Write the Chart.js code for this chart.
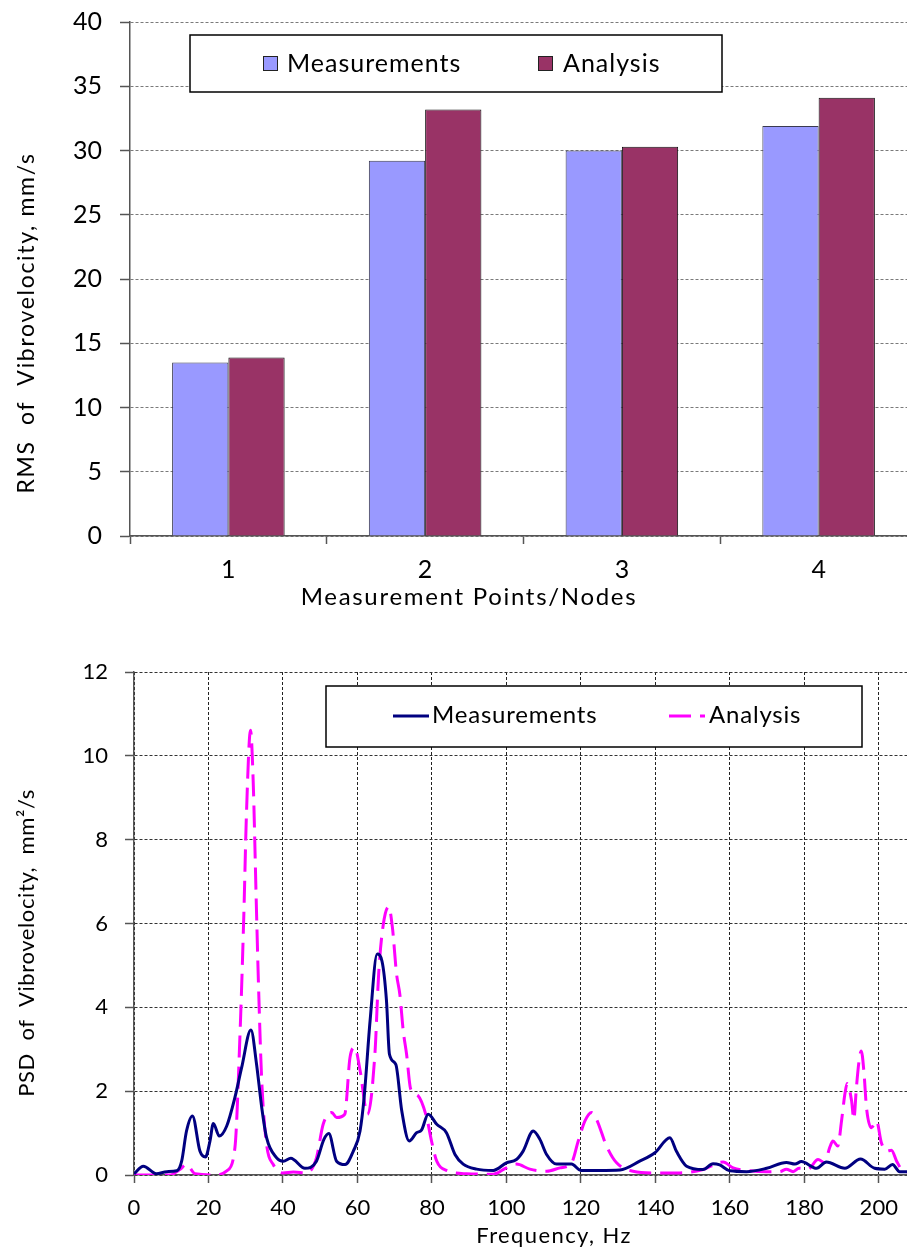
<!DOCTYPE html>
<html>
<head>
<meta charset="utf-8">
<script src="https://cdn.jsdelivr.net/npm/chart.js@4.4.1/dist/chart.umd.min.js"></script>
<style>
  html, body { margin: 0; padding: 0; background: #fff; width: 907px; height: 1251px; overflow: hidden; }
  #rmsBox { position: absolute; left: 0; top: 0; width: 920px; height: 620px; }
  #psdBox { position: absolute; left: 0; top: 640px; width: 920px; height: 611px; }
</style>
</head>
<body>
<div id="rmsBox"><canvas id="rmsChart"></canvas></div>
<div id="psdBox"><canvas id="psdChart"></canvas></div>
<script>
// ---- RMS of vibrovelocity per measurement point ----
const nodeLabels = ['1', '2', '3', '4'];
const rmsMeasured = [13.5, 29.2, 30.0, 31.9];
const rmsAnalysis = [13.9, 33.2, 30.3, 34.1];

// ---- PSD spectra (frequency in Hz, PSD in mm²/s) ----
const freqMeasured = [0, 2.5, 6, 8.8, 11.5, 12.8, 14.1, 15.7, 17.7, 19.2, 20.4, 21.3, 22.9, 24.9, 27.1, 28.9,
  31.4, 32.9, 34.3, 35.6, 38.3, 40.1, 42.1, 45.9, 49, 51, 52.3, 54.4, 56.7, 58.9, 60.7, 61.8, 63.4, 65.3,
  66.6, 67.8, 68.6, 70.3, 71.9, 73.9, 75.9, 77.2, 79, 81.3, 83.9, 86.2, 88.4, 92, 96.5, 100, 102.7, 104.5,
  107.2, 109, 110.8, 113.5, 117.5, 120, 125, 130.5, 135.8, 139.9, 143.9, 145.7, 148.4, 152.8, 155.5, 157.3,
  160, 164.5, 169.9, 175.2, 177.5, 179.2, 183.3, 185.9, 190.9, 195.1, 198.9, 201.6, 203.7, 205.6, 210];
const psdMeasured = [0.03, 0.21, 0.03, 0.08, 0.1, 0.33, 1.05, 1.41, 0.57, 0.43, 0.81, 1.23, 0.93, 1.17, 1.85, 2.56,
  3.46, 2.65, 1.61, 0.89, 0.41, 0.33, 0.4, 0.16, 0.33, 0.85, 0.99, 0.33, 0.25, 0.57, 1.05, 1.85, 3.68, 5.27,
  5.1, 4.16, 2.88, 2.64, 1.53, 0.81, 1.01, 1.07, 1.45, 1.21, 1.01, 0.49, 0.26, 0.14, 0.11, 0.29, 0.37, 0.57,
  1.05, 0.85, 0.49, 0.26, 0.26, 0.11, 0.11, 0.12, 0.33, 0.53, 0.89, 0.56, 0.21, 0.13, 0.27, 0.24,
  0.1, 0.08, 0.16, 0.3, 0.26, 0.32, 0.16, 0.31, 0.16, 0.38, 0.16, 0.14, 0.25, 0.08, 0.08];

const freqAnalysis = [0, 9.6, 12.3, 14.1, 16.4, 22.2, 24.9, 27.1, 28.5, 29.5, 30.2, 31.3, 32, 32.8, 33.4, 34.3,
  35.6, 37.4, 40, 42.8, 46.4, 49, 50.8, 53.1, 54.4, 56.6, 58, 59.3, 60.7, 62.7, 64.7, 65.7, 66.9, 68.4,
  69.4, 70.5, 71.4, 72.3, 73.2, 74.3, 76.3, 78.6, 79.9, 81.3, 83.9, 89.3, 96.5, 100, 102.7, 106.3, 110.8,
  114.4, 117.5, 119.3, 121.1, 122.9, 124.2, 126.9, 129.6, 134, 140.3, 146.6, 152.8, 158.2, 160.9, 164.5,
  169.9, 173.4, 175.2, 177, 178.6, 181, 183.7, 185.5, 186.8, 187.7, 189, 190, 190.9, 191.5, 192.7, 193.3,
  194, 194.7, 195.3, 196, 196.7, 198, 199.4, 200.7, 202.1, 203.4, 204.8, 206.5, 210];
const psdAnalysis = [0, 0, 0.13, 0.25, 0.03, 0, 0.1, 0.65, 3.44, 6.23, 8.62, 10.61, 9.41, 6.63, 4.64, 2.25,
  0.73, 0.25, 0.05, 0.07, 0.05, 0.41, 1.21, 1.49, 1.37, 1.45, 2.8, 3.04, 2.5, 1.45, 2.9, 4.8, 5.95, 6.4,
  5.9, 4.8, 4.3, 3.44, 2.88, 2.05, 1.89, 1.37, 0.81, 0.33, 0.11, 0.03, 0.02, 0.17, 0.26, 0.14, 0.09,
  0.17, 0.29, 0.81, 1.29, 1.49, 1.33, 0.69, 0.29, 0.09, 0.05, 0.05, 0.13, 0.31, 0.17, 0.11,
  0.08, 0.08, 0.14, 0.08, 0.16, 0.14, 0.37, 0.29, 0.65, 0.81, 0.69, 1.29, 1.93, 2.18, 1.77, 1.33,
  2.09, 2.72, 2.96, 2.48, 1.61, 1.13, 1.29, 0.77, 0.57, 0.59, 0.33, 0.1, 0.05];

const FONT = 'Lato';

// Bordered legend drawn inside the plot area
const boxLegend = {
  id: 'boxLegend',
  afterDraw(chart, args, o) {
    const ctx = chart.ctx;
    ctx.save();
    ctx.fillStyle = '#fff';
    ctx.fillRect(o.box.x, o.box.y, o.box.w, o.box.h);
    ctx.strokeStyle = '#000';
    ctx.lineWidth = 1.5;
    ctx.strokeRect(o.box.x, o.box.y, o.box.w, o.box.h);
    ctx.font = `${o.size}px ${FONT}`;
    ctx.letterSpacing = o.spacing + 'px';
    ctx.textBaseline = 'alphabetic';
    ctx.textAlign = 'left';
    chart.data.datasets.forEach((ds, i) => {
      const it = o.items[i];
      if (o.kind === 'square') {
        ctx.fillStyle = ds.backgroundColor;
        ctx.fillRect(it.mx, o.my, 15, 15);
        ctx.strokeStyle = '#222';
        ctx.lineWidth = 1;
        ctx.strokeRect(it.mx + 0.5, o.my + 0.5, 14, 14);
      } else {
        ctx.strokeStyle = ds.borderColor;
        ctx.lineWidth = ds.borderWidth;
        ctx.setLineDash(ds.borderDash || []);
        ctx.beginPath();
        ctx.moveTo(it.mx, o.my);
        ctx.lineTo(it.mx2, o.my);
        ctx.stroke();
        ctx.setLineDash([]);
      }
      ctx.fillStyle = '#000';
      ctx.fillText(ds.label, it.tx, o.ty);
    });
    ctx.restore();
  }
};

// Axis titles placed freely around the plot
const axisTitles = {
  id: 'axisTitles',
  afterDraw(chart, args, o) {
    const ctx = chart.ctx;
    ctx.save();
    ctx.fillStyle = '#000';
    ctx.textAlign = 'center';
    ctx.textBaseline = 'middle';
    ctx.font = `${o.xSize}px ${FONT}`;
    ctx.letterSpacing = o.xSpacing + 'px';
    ctx.fillText(o.xText, o.xcx, o.xcy);
    ctx.font = `${o.ySize}px ${FONT}`;
    ctx.letterSpacing = o.ySpacing + 'px';
    ctx.translate(o.ycx, o.ycy);
    ctx.rotate(-Math.PI / 2);
    ctx.fillText(o.yText, 0, 0);
    ctx.restore();
  }
};

Chart.register(boxLegend, axisTitles);

// fixed-width value axis whose label overflow does not push the plot area
function fixedValueAxis(width) {
  return (s) => { s.width = width; s.paddingTop = 0; s.paddingBottom = 0; };
}

new Chart(document.getElementById('rmsChart'), {
  type: 'bar',
  data: {
    labels: nodeLabels,
    datasets: [
      { label: 'Measurements', data: rmsMeasured, backgroundColor: '#9999FF', borderColor: '#3a3a50', borderWidth: 1,
        categoryPercentage: 0.572, barPercentage: 1.0, borderSkipped: 'start' },
      { label: 'Analysis', data: rmsAnalysis, backgroundColor: '#993366', borderColor: '#111', borderWidth: 1,
        categoryPercentage: 0.572, barPercentage: 1.0, borderSkipped: 'start' }
    ]
  },
  options: {
    responsive: true, maintainAspectRatio: false, animation: false, devicePixelRatio: 1,
    layout: { padding: { top: 22, right: 3, bottom: 0, left: 0 } },
    plugins: {
      legend: { display: false }, tooltip: { enabled: false },
      boxLegend: { kind: 'square', size: 25, spacing: 1, box: { x: 190, y: 35, w: 532, h: 57 }, my: 56, ty: 72,
        items: [{ mx: 263, tx: 287 }, { mx: 538, tx: 563 }] },
      axisTitles: { xSize: 24, xSpacing: 1.7, xText: 'Measurement Points/Nodes', xcx: 469, xcy: 597,
        ySize: 23, ySpacing: 1.7, yText: 'RMS  of  Vibrovelocity, mm/s', ycx: 27, ycy: 323 }
    },
    scales: {
      x: {
        grid: { offset: true, drawOnChartArea: false, drawTicks: true, tickLength: 8, tickColor: '#555', tickWidth: 1.5 },
        border: { color: '#555', width: 1.5 },
        ticks: { font: { family: FONT, size: 25 }, color: '#000', padding: 11 },
        afterFit(s) { s.height = 84; }
      },
      y: {
        min: 0, max: 40,
        ticks: { stepSize: 5, font: { family: FONT, size: 25 }, color: '#000', padding: 18 },
        grid: { color: '#7a7a7a', lineWidth: 1, tickLength: 10, tickColor: '#555', tickWidth: 1.5, tickBorderDash: [] },
        border: { color: '#555', width: 1.5, dash: [3, 2] },
        afterFit: fixedValueAxis(130)
      }
    }
  }
});

new Chart(document.getElementById('psdChart'), {
  type: 'line',
  data: {
    datasets: [
      { label: 'Measurements', data: freqMeasured.map((f, i) => ({ x: f, y: psdMeasured[i] })),
        borderColor: '#000080', borderWidth: 3, pointRadius: 0, fill: false, cubicInterpolationMode: 'monotone' },
      { label: 'Analysis', data: freqAnalysis.map((f, i) => ({ x: f, y: psdAnalysis[i] })),
        borderColor: '#FF00FF', borderWidth: 3, borderDash: [22, 9], pointRadius: 0, fill: false, cubicInterpolationMode: 'monotone' }
    ]
  },
  options: {
    responsive: true, maintainAspectRatio: false, animation: false, devicePixelRatio: 1,
    layout: { padding: { top: 32, right: 4, bottom: 0, left: 0 } },
    plugins: {
      legend: { display: false }, tooltip: { enabled: false },
      boxLegend: { kind: 'line', size: 24, spacing: 0.8, box: { x: 326, y: 46, w: 536, h: 61 }, my: 76, ty: 83,
        items: [{ mx: 393, mx2: 429, tx: 432 }, { mx: 669, mx2: 705, tx: 709 }] },
      axisTitles: { xSize: 22, xSpacing: 1.4, xText: 'Frequency, Hz', xcx: 554, xcy: 596,
        ySize: 22, ySpacing: 0.6, yText: 'PSD  of  Vibrovelocity,  mm²/s', ycx: 27, ycy: 303 }
    },
    scales: {
      x: {
        type: 'linear', min: 0, max: 210,
        ticks: { stepSize: 20, includeBounds: false, font: { family: FONT, size: 22 }, color: '#000', padding: 12 },
        grid: { color: '#222', lineWidth: 1, tickLength: 8, tickColor: '#555', tickWidth: 1.5, tickBorderDash: [] },
        border: { color: '#555', width: 1.5, dash: [3, 2] },
        afterFit(s) { s.height = 76; }
      },
      y: {
        min: 0, max: 12,
        ticks: { stepSize: 2, font: { family: FONT, size: 22 }, color: '#000', padding: 17 },
        grid: { color: '#333', lineWidth: 1, tickLength: 9, tickColor: '#555', tickWidth: 1.5, tickBorderDash: [] },
        border: { color: '#555', width: 1.5, dash: [3, 2] },
        afterFit: fixedValueAxis(134)
      }
    }
  }
});
</script>
</body>
</html>
